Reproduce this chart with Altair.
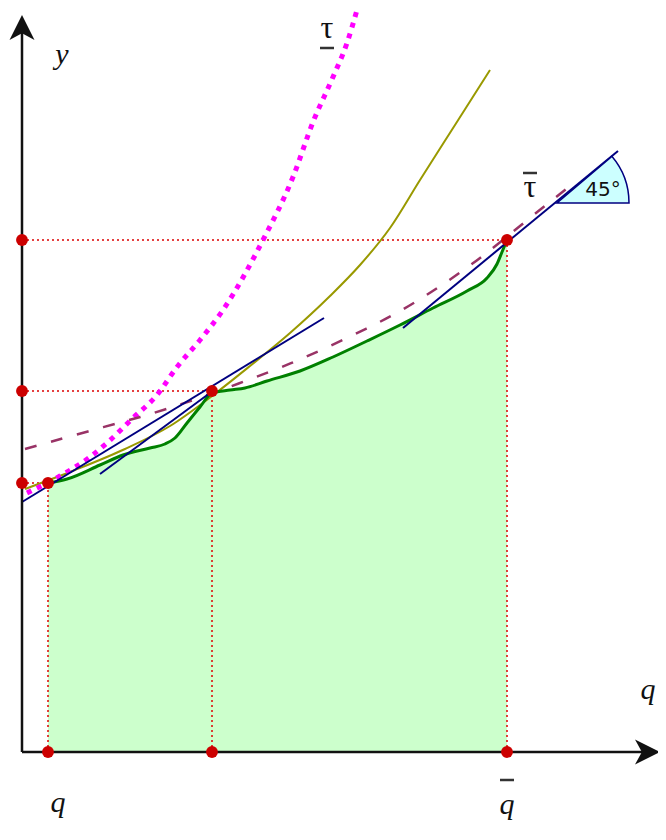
import altair as alt
import pandas as pd

# ---------------- data (diagram units: q to the right, y upward) ----------------
q_pts = [0.26, 1.90, 4.85]          # q_low, q_mid, q_high
y_pts = [2.69, 3.61, 5.12]          # y values of the three marked points

green_q = [0.26, 0.45, 0.78, 1.01, 1.28, 1.43, 1.53, 1.65, 1.78, 1.90, 2.08, 2.23,
           2.45, 2.78, 3.11, 3.45, 3.78, 4.11, 4.45, 4.65, 4.75, 4.80, 4.85]
green_y = [2.69, 2.73, 2.87, 2.97, 3.04, 3.08, 3.14, 3.29, 3.45, 3.59, 3.62, 3.64,
           3.71, 3.81, 3.95, 4.11, 4.27, 4.44, 4.61, 4.74, 4.88, 5.00, 5.12]

olive_q = [0.03, 0.53, 1.03, 1.48, 1.90, 2.28, 2.68, 3.08, 3.38, 3.68, 3.98, 4.33, 4.68]
olive_y = [2.63, 2.82, 3.03, 3.26, 3.56, 3.86, 4.19, 4.56, 4.87, 5.24, 5.72, 6.27, 6.82]

magenta_q = [0.05, 0.38, 0.68, 0.85, 1.11, 1.35, 1.55, 1.78, 2.01, 2.41, 2.71, 2.91,
             3.11, 3.25, 3.35]
magenta_y = [2.59, 2.76, 2.95, 3.09, 3.34, 3.57, 3.85, 4.12, 4.42, 5.12, 5.75, 6.30,
             6.75, 7.09, 7.42]

purple_q = [0.03, 0.85, 1.45, 2.21, 2.71, 3.21, 3.71, 4.18, 4.63, 5.05, 5.53]
purple_y = [3.03, 3.26, 3.42, 3.70, 3.89, 4.12, 4.36, 4.65, 4.97, 5.32, 5.70]

# tangent segments (start q, start y, end q, end y)
tan_q1 = [0.00, 0.78, 3.81]
tan_y1 = [2.50, 2.78, 4.24]
tan_q2 = [3.02, 1.92, 5.96]
tan_y2 = [4.34, 3.62, 6.01]

# 45 degree wedge vertex
wedge_q = [5.35]
wedge_y = [5.49]

# axes extents
axis_q_end = 6.30
axis_y_end = 7.20
arrow_q_tip = 6.38
arrow_y_tip = 7.37

# ---------------- scales ----------------
W, H = 650, 816
X_DOM = [-0.14, -0.14 + W / 100.0]
Y_DOM = [7.44 - H / 100.0, 7.44]
xs = alt.Scale(domain=X_DOM, nice=False, zero=False)
ys = alt.Scale(domain=Y_DOM, nice=False, zero=False)


def X(f="q"):
    return alt.X(f"{f}:Q", scale=xs, axis=None)


def Y(f="y"):
    return alt.Y(f"{f}:Q", scale=ys, axis=None)


def line_df(qs, ys_):
    return pd.DataFrame({"q": qs, "y": ys_, "i": range(len(qs)), "base": [0.0] * len(qs)})


# green area + curve
green_df = line_df(green_q, green_y)
green_area = alt.Chart(green_df).mark_area(
    color="#ccffcc", opacity=1, interpolate="monotone").encode(
    x=X(), y=Y(), y2="base:Q")
green_line = alt.Chart(green_df).mark_line(color="#008000", strokeWidth=3, interpolate="monotone").encode(
    x=X(), y=Y(), order="i:Q")

# red dotted guides
guides = pd.DataFrame({
    "q": [0.0] * 3 + q_pts,
    "y": y_pts + [0.0] * 3,
    "q2": q_pts + q_pts,
    "y2": y_pts + y_pts,
})
guide_rules = alt.Chart(guides).mark_rule(color="#dd0000", strokeWidth=1.5, strokeDash=[2, 3]).encode(
    x=X(), y=Y(), x2="q2:Q", y2="y2:Q")

olive = alt.Chart(line_df(olive_q, olive_y)).mark_line(
    color="#999900", strokeWidth=2, interpolate="monotone").encode(x=X(), y=Y(), order="i:Q")

magenta = alt.Chart(line_df(magenta_q, magenta_y)).mark_line(
    color="#ff00ff", strokeWidth=5, strokeDash=[5, 6], interpolate="monotone").encode(
    x=X(), y=Y(), order="i:Q")

purple = alt.Chart(line_df(purple_q, purple_y)).mark_line(
    color="#993366", strokeWidth=2.5, strokeDash=[12, 15], interpolate="basis").encode(
    x=X(), y=Y(), order="i:Q")

tangents = alt.Chart(pd.DataFrame({"q": tan_q1, "y": tan_y1, "q2": tan_q2, "y2": tan_y2})).mark_rule(
    color="#000080", strokeWidth=2).encode(x=X(), y=Y(), x2="q2:Q", y2="y2:Q")

wedge = alt.Chart(pd.DataFrame({"q": wedge_q, "y": wedge_y})).mark_arc(
    radius=72, theta=0.866, theta2=1.5708, fill="#ccffff", stroke="#000080", strokeWidth=1.5
).encode(x=X(), y=Y())

# axes
axes = alt.Chart(pd.DataFrame({"q": [0.0, 0.0], "y": [0.0, 0.0],
                               "q2": [axis_q_end, 0.0], "y2": [0.0, axis_y_end]})).mark_rule(
    color="#111111", strokeWidth=2.5).encode(x=X(), y=Y(), x2="q2:Q", y2="y2:Q")
arrow_up = alt.Chart(pd.DataFrame({"q": [0.0], "y": [arrow_y_tip]})).mark_point(
    shape="M0,0 L1,2 L0,1.45 L-1,2 Z", filled=True, size=625, color="#111111", opacity=1
).encode(x=X(), y=Y())
arrow_right = alt.Chart(pd.DataFrame({"q": [arrow_q_tip], "y": [0.0]})).mark_point(
    shape="M0,0 L-2,-1 L-1.45,0 L-2,1 Z", filled=True, size=625, color="#111111", opacity=1
).encode(x=X(), y=Y())

# red points
pts = pd.DataFrame({
    "q": q_pts + [0.0] * 3 + q_pts,
    "y": y_pts + y_pts + [0.0] * 3,
})
red_pts = alt.Chart(pts).mark_circle(color="#cc0000", size=140, opacity=1).encode(x=X(), y=Y())

# labels
labels_serif_it = pd.DataFrame({
    "q": [0.40, 6.26, 0.36, 4.85],
    "y": [6.97, 0.62, -0.51, -0.53],
    "t": ["y", "q", "q", "q"],
})
t_it = alt.Chart(labels_serif_it).mark_text(
    font="Liberation Serif", fontStyle="italic", fontSize=30, color="#111111",
    align="center", baseline="middle").encode(x=X(), y=Y(), text="t:N")

labels_tau = pd.DataFrame({"q": [3.05, 5.08], "y": [7.14, 5.55], "t": ["τ", "τ"]})
t_tau = alt.Chart(labels_tau).mark_text(
    font="Liberation Serif", fontSize=32, color="#111111",
    align="center", baseline="alphabetic").encode(x=X(), y=Y(), text="t:N")

bars = pd.DataFrame({
    "q": [2.98, 5.01, 0.23, 4.78],
    "q2": [3.12, 5.15, 0.37, 4.92],
    "y": [7.04, 5.79, -0.86, -0.28],
})
bar_rules = alt.Chart(bars).mark_rule(color="#333333", strokeWidth=2.5).encode(
    x=X(), y=Y(), x2="q2:Q", y2="y:Q")

deg = alt.Chart(pd.DataFrame({"q": [5.81], "y": [5.62], "t": ["45°"]})).mark_text(
    font="DejaVu Sans", fontSize=20, color="#111111", align="center", baseline="middle"
).encode(x=X(), y=Y(), text="t:N")

chart = alt.layer(
    green_area, guide_rules, olive, magenta, purple, green_line, tangents, wedge,
    axes, arrow_up, arrow_right, red_pts, t_it, t_tau, bar_rules, deg
).properties(
    width=W, height=H, autosize=alt.AutoSizeParams(type="none"), padding=0,
    background="white"
).configure_view(stroke=None)

chart.save("out.html", embed_options={"renderer": "svg", "actions": False})
